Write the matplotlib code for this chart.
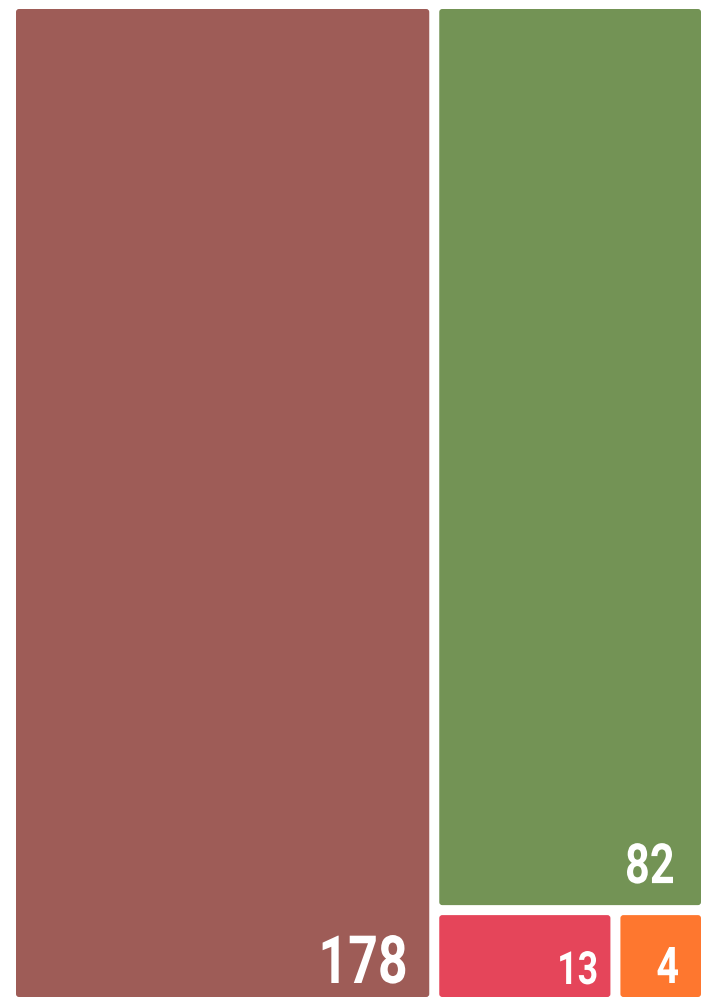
import matplotlib
matplotlib.use('Agg')

import matplotlib.pyplot as plt
from matplotlib.patches import FancyBboxPatch, PathPatch
from matplotlib.textpath import TextPath
from matplotlib.font_manager import FontProperties
from matplotlib.transforms import Affine2D

# treemap cells: label value, relative area, colour
labels = [178, 82, 13, 4]
sizes = [60.9, 35.5, 2.4, 1.2]
colors = ['#9e5c57', '#739355', '#e5455a', '#fe772f']

W, H = 702, 1001
GAP = 5


def slice_dice(vals, x0, y0, x1, y1, vertical=True):
    """Split first cell off, then recurse on the rest with flipped direction."""
    if len(vals) == 1:
        return [(x0, y0, x1, y1)]
    frac = vals[0] / sum(vals)
    if vertical:
        xs = x0 + (x1 - x0) * frac
        return [(x0, y0, xs, y1)] + slice_dice(vals[1:], xs, y0, x1, y1, False)
    ys = y0 + (y1 - y0) * frac
    return [(x0, y0, x1, ys)] + slice_dice(vals[1:], x0, ys, x1, y1, True)


rects = slice_dice(sizes, 11, 4, 706, 1002)

fig = plt.figure(figsize=(W / 100, H / 100), dpi=100)
ax = fig.add_axes([0, 0, 1, 1])
ax.set_xlim(0, W)
ax.set_ylim(H, 0)
ax.axis('off')

font = FontProperties(family='Roboto', weight='bold')

# per-label digit height (px) and inset from the cell's bottom-right corner
text_style = [(48, 24, 14), (40, 28, 22), (33, 14, 13), (36, 23, 14)]
SQUEEZE = 0.78  # condensed look

for (x0, y0, x1, y1), lab, col, (hpx, dx, dy) in zip(rects, labels, colors, text_style):
    ax.add_patch(FancyBboxPatch(
        (x0 + GAP, y0 + GAP),
        (x1 - x0) - 2 * GAP,
        (y1 - y0) - 2 * GAP,
        boxstyle='round,pad=0,rounding_size=3',
        facecolor=col,
        edgecolor='none',
    ))
    tp = TextPath((0, 0), str(lab), size=100, prop=font)
    ext = tp.get_extents()
    k = hpx / ext.y1
    tr = (Affine2D()
          .translate(-ext.x1, 0)
          .scale(SQUEEZE * k, -k)
          .translate(x1 - GAP - dx, y1 - GAP - dy))
    ax.add_patch(PathPatch(tr.transform_path(tp), facecolor='white',
                           edgecolor='none'))

fig.savefig('out.png', dpi=100)
plt.close(fig)
